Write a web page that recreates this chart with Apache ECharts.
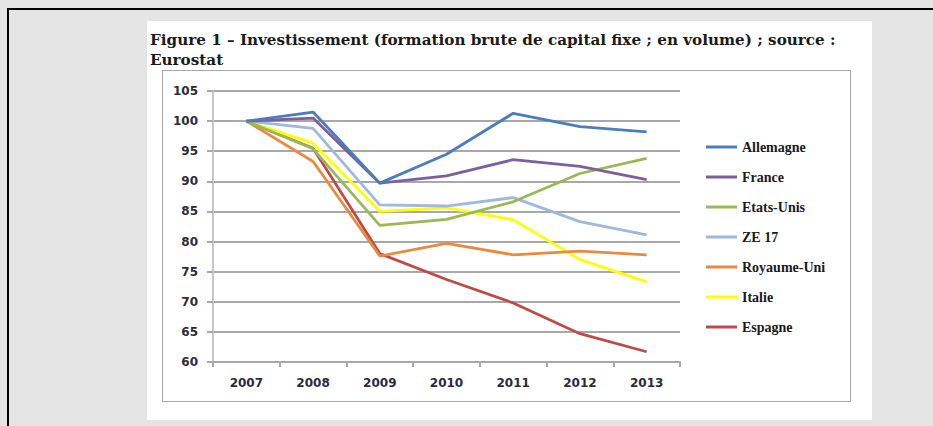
<!DOCTYPE html>
<html>
<head>
<meta charset="utf-8">
<script src="https://cdn.jsdelivr.net/npm/echarts@6/dist/echarts.min.js"></script>
<style>
  html, body { margin: 0; padding: 0; background: #e4e4e4; }
  #outer { position: absolute; left: 7px; top: 8px; width: 940px; height: 430px;
           border-left: 2px solid #000; border-top: 2px solid #000; }
  #panel { position: absolute; left: 147px; top: 21px; width: 725px; height: 399px; background: #fff; }
  #box { position: absolute; left: 162px; top: 70px; width: 687px; height: 330px;
         border: 1.5px solid #a8a8a8; }
  #main { position: absolute; left: 0; top: 0; width: 933px; height: 426px; }
</style>
</head>
<body>
<div id="outer"></div>
<div id="panel"></div>
<div id="box"></div>
<div id="main"></div>
<script>
  // données
  var years = ['2007', '2008', '2009', '2010', '2011', '2012', '2013'];
  var seriesNames = ['Allemagne', 'France', 'Etats-Unis', 'ZE 17', 'Royaume-Uni', 'Italie', 'Espagne'];
  var allemagne = [100, 101.5, 89.7, 94.5, 101.3, 99.1, 98.2];
  var france = [100, 100.5, 89.7, 90.9, 93.6, 92.5, 90.3];
  var etatsUnis = [100, 95.4, 82.7, 83.7, 86.6, 91.3, 93.8];
  var ze17 = [100, 98.8, 86.1, 85.9, 87.3, 83.3, 81.1];
  var royaumeUni = [100, 93.3, 77.6, 79.7, 77.8, 78.4, 77.8];
  var italie = [100, 96.3, 85.0, 85.6, 83.6, 77.0, 73.3];
  var espagne = [100, 95.5, 78.0, 73.7, 69.8, 64.7, 61.7];
  var colors = ['#4a7ebb', '#7d5fa0', '#98b954', '#9db9dc', '#ea8a3f', '#ffff00', '#be4b48'];

  var myChart = echarts.init(document.getElementById('main'), null, { renderer: 'svg' });

  var allData = [allemagne, france, etatsUnis, ze17, royaumeUni, italie, espagne];
  var series = [];
  // ordre de dessin : Espagne en dessous, Allemagne au-dessus
  for (var i = 0; i < seriesNames.length; i++) {
    series.push({
      name: seriesNames[i],
      type: 'line',
      data: allData[i],
      symbol: 'none',
      z: 10 - i,
      lineStyle: { width: 2.8, color: colors[i] },
      itemStyle: { color: colors[i] }
    });
  }

  var option = {
    animation: false,
    title: {
      text: 'Figure 1 – Investissement (formation brute de capital fixe ; en volume) ; source :\nEurostat',
      left: 150,
      top: 30,
      padding: 0,
      textStyle: {
        fontFamily: 'DejaVu Serif',
        fontWeight: 'bold',
        fontSize: 15.2,
        lineHeight: 20,
        color: '#1a1a1a'
      }
    },
    legend: {
      orient: 'vertical',
      left: 706,
      top: 139,
      padding: 0,
      itemGap: 14,
      itemWidth: 31,
      itemHeight: 3,
      icon: 'rect',
      data: seriesNames,
      textStyle: {
        fontFamily: 'Liberation Serif',
        fontWeight: 'bold',
        fontSize: 14,
        lineHeight: 16,
        color: '#1a1a1a'
      }
    },
    grid: {
      left: 213,
      right: 253,
      top: 91,
      bottom: 64
    },
    xAxis: {
      type: 'category',
      data: years,
      boundaryGap: true,
      axisLine: { lineStyle: { color: '#a8a8a8', width: 2 } },
      axisTick: { show: true, length: 5, lineStyle: { color: '#a8a8a8', width: 2 } },
      axisLabel: {
        margin: 15,
        fontFamily: 'DejaVu Sans',
        fontWeight: 'bold',
        fontSize: 12,
        color: '#2b2b3b'
      }
    },
    yAxis: {
      type: 'value',
      min: 60,
      max: 105,
      interval: 5,
      axisLine: { show: true, lineStyle: { color: '#c8c8c8', width: 2 } },
      axisTick: { show: true, length: 6, lineStyle: { color: '#a8a8a8', width: 2 } },
      splitLine: { lineStyle: { color: '#a8a8a8', width: 2 } },
      axisLabel: {
        margin: 15,
        fontFamily: 'DejaVu Sans',
        fontWeight: 'bold',
        fontSize: 12,
        color: '#2b2b3b'
      }
    },
    series: series
  };

  myChart.setOption(option);
</script>
</body>
</html>
